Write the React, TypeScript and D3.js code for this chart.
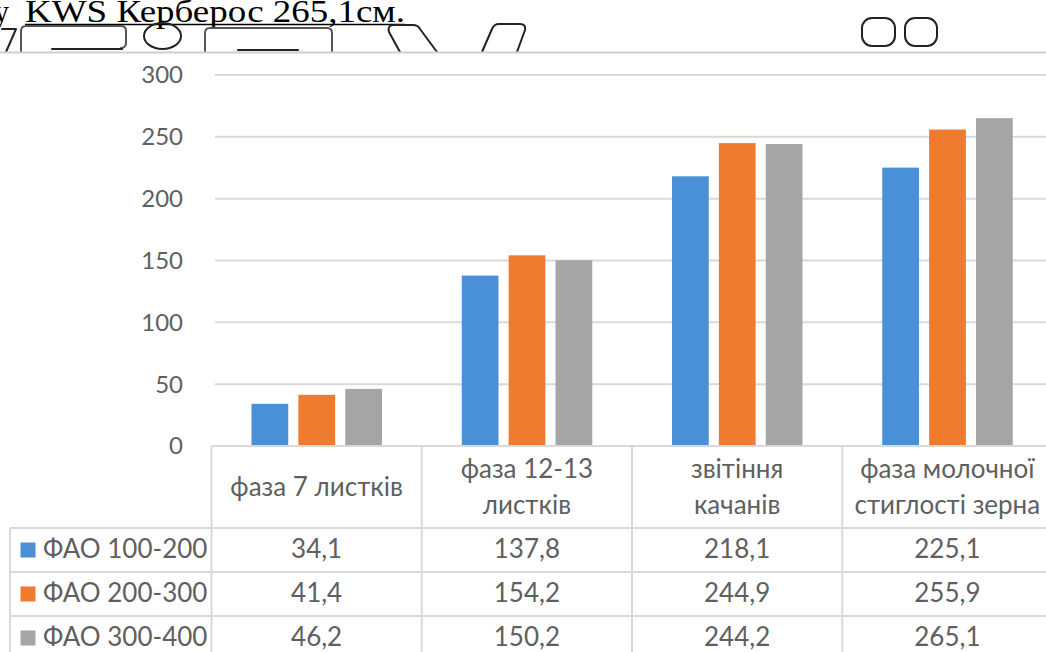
import React from "react";
import * as d3 from "d3";

// Plant height (cm) of maize hybrids by FAO group at each growth phase
const categories: string[][] = [
  ["фаза 7 листків"],
  ["фаза 12-13", "листків"],
  ["звітіння", "качанів"],
  ["фаза молочної", "стиглості зерна"],
];
const seriesNames = ["ФАО 100-200", "ФАО 200-300", "ФАО 300-400"];
const fao100_200 = [34.1, 137.8, 218.1, 225.1];
const fao200_300 = [41.4, 154.2, 244.9, 255.9];
const fao300_400 = [46.2, 150.2, 244.2, 265.1];
const yTicks = [0, 50, 100, 150, 200, 250, 300];
const colors = ["#4A90D8", "#EF7C2E", "#A5A5A5"];

const seriesValues = [fao100_200, fao200_300, fao300_400];

const W = 1046;
const H = 652;
const FONT = "Lato, 'Open Sans', sans-serif";
const TEXT = "#5f5f5f";
const GRID = "#d9d9d9";

const fmt = (v: number) => v.toFixed(1).replace(".", ",");

export default function App() {
  const x = d3
    .scaleBand<number>()
    .domain(d3.range(categories.length))
    .range([211.5, 1052.5])
    .paddingInner(0)
    .paddingOuter(0);
  const xs = d3
    .scaleBand<number>()
    .domain(d3.range(seriesNames.length))
    .range([40, 170.5])
    .paddingInner(0.216);
  const y = d3.scaleLinear().domain([0, 300]).range([446, 75]);
  const rows = d3
    .scaleBand<number>()
    .domain(d3.range(seriesNames.length))
    .range([528, 660]);

  const headerMid = 496;
  const lineGap = 36;

  return (
    <svg
      width={W}
      height={H}
      style={{ position: "absolute", left: 0, top: 0, background: "#fff" }}
      xmlns="http://www.w3.org/2000/svg"
    >
      <rect x={0} y={0} width={W} height={H} fill="#fff" />

      {/* running document text above the chart */}
      <g fill="#000" fontFamily="'Liberation Serif', 'Times New Roman', serif" fontSize={32}>
        <text x={-6} y={22} textLength={15} lengthAdjust="spacingAndGlyphs">у</text>
        <text x={25} y={22} textLength={380} lengthAdjust="spacingAndGlyphs">
          KWS Керберос 265,1см.
        </text>
      </g>
      <line x1={25} x2={405} y1={24.5} y2={24.5} stroke="#000" strokeWidth={1.4} />

      {/* fragments of the next text line, clipped by the chart frame */}
      <g fill="none" stroke="#222" strokeWidth={2} strokeLinecap="round" strokeLinejoin="round">
        <path d="M2,29 L16,29 L6,52" />
        <path d="M21,52 L21,31 Q21,26 26,26 L121,26 Q126,26 126,31 L126,44 Q125,48 121,48" stroke="#555" />
        <path d="M52,49 L122,49" />
        <ellipse cx={162.5} cy={36} rx={18.5} ry={13} />
        <path d="M205,52 L205,33 Q205,28 210,28 L327,28 Q332,28 332,33 L332,52" stroke="#555" />
        <path d="M238,50 L298,50" />
        <path d="M400,52 L389,32 Q387,25 394,25 L413,25 Q418,25 420,29 L437,52" />
        <path d="M482,52 L492,29 Q494,24 499,24 L520,24 Q526,24 525,30 L517,52" />
        <rect x={862} y={18} width={33} height={28} rx={10} />
        <rect x={905} y={18} width={32} height={28} rx={10} />
      </g>

      {/* chart frame */}
      <rect x={0} y={53} width={W} height={H - 53} fill="#fff" />
      <line x1={0} x2={W} y1={52.5} y2={52.5} stroke="#cfcfcf" strokeWidth={2} />

      {/* gridlines and value axis */}
      <g>
        {yTicks.map((t) => (
          <g key={t}>
            {t > 0 && (
              <line x1={215} x2={W} y1={y(t)} y2={y(t)} stroke={GRID} strokeWidth={2} />
            )}
            <text
              x={183}
              y={y(t)}
              dy="0.35em"
              textAnchor="end"
              fontFamily={FONT}
              fontSize={24}
              fill={TEXT}
            >
              {t}
            </text>
          </g>
        ))}
      </g>

      {/* bars */}
      <g>
        {seriesValues.map((vals, si) =>
          vals.map((v, ci) => (
            <rect
              key={`${si}-${ci}`}
              x={(x(ci) as number) + (xs(si) as number)}
              y={y(v)}
              width={xs.bandwidth()}
              height={y(0) - y(v)}
              fill={colors[si]}
            />
          ))
        )}
      </g>

      {/* data table */}
      <g stroke={GRID} strokeWidth={2}>
        <line x1={211.5} x2={W} y1={y(0)} y2={y(0)} />
        {rows.domain().map((r) => (
          <line key={r} x1={10} x2={W} y1={rows(r)} y2={rows(r)} />
        ))}
        <line x1={10} x2={10} y1={rows(0)} y2={H} />
        {d3.range(categories.length).map((c) => (
          <line key={c} x1={x(c)} x2={x(c)} y1={y(0)} y2={H} />
        ))}
      </g>

      <g fontFamily={FONT} fontSize={26} fill={TEXT}>
        {categories.map((lines, ci) =>
          lines.map((ln, li) => (
            <text
              key={`${ci}-${li}`}
              x={(x(ci) as number) + x.bandwidth() / 2}
              y={headerMid + (li - (lines.length - 1) / 2) * lineGap}
              textAnchor="middle"
            >
              {ln}
            </text>
          ))
        )}

        {seriesNames.map((name, si) => {
          const top = rows(si) as number;
          const cy = top + 22;
          return (
            <g key={name}>
              <rect x={20.5} y={cy - 7.5} width={15} height={15} fill={colors[si]} />
              <text x={43} y={top + 30}>
                {name}
              </text>
              {seriesValues[si].map((v, ci) => (
                <text
                  key={ci}
                  x={(x(ci) as number) + x.bandwidth() / 2}
                  y={top + 30}
                  textAnchor="middle"
                >
                  {fmt(v)}
                </text>
              ))}
            </g>
          );
        })}
      </g>
    </svg>
  );
}
